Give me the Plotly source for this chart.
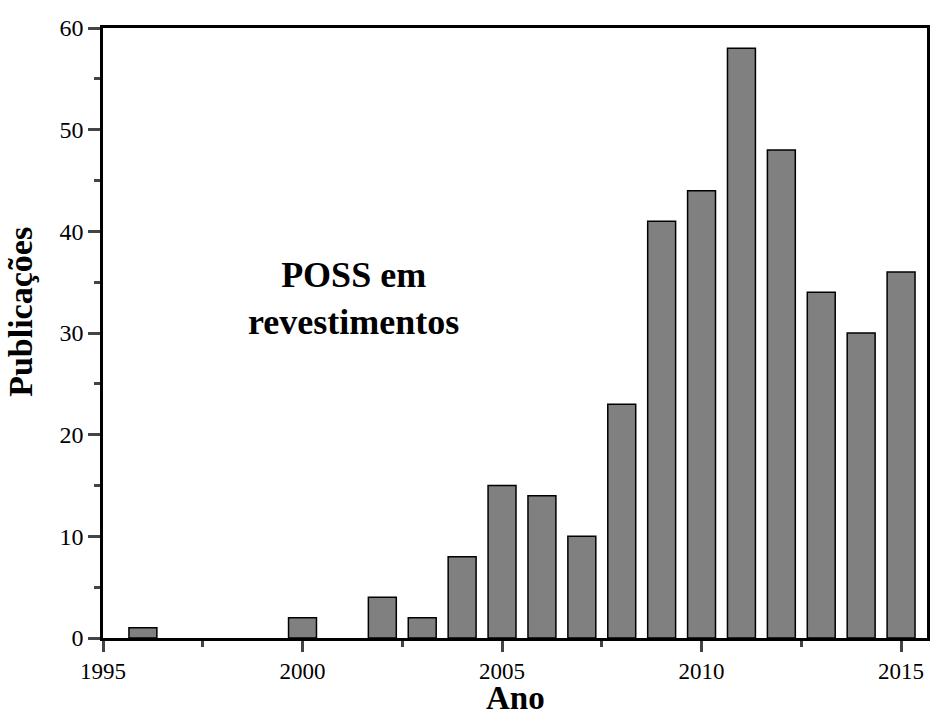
import plotly.graph_objects as go

years = list(range(1996, 2016))
pubs = [1, 0, 0, 0, 2, 0, 4, 2, 8, 15, 14, 10, 23, 41, 44, 58, 48, 34, 30, 36]

font = "Liberation Serif, Times New Roman, serif"

fig = go.Figure(go.Bar(
    x=years, y=pubs, width=0.7,
    marker=dict(color="#808080",
                line=dict(color="black", width=[1.5 if v > 0 else 0 for v in pubs])),
))

fig.update_layout(
    width=933, height=718,
    margin=dict(l=103, r=3, t=28, b=80),
    plot_bgcolor="white", paper_bgcolor="white",
    showlegend=False,
    font=dict(family=font, size=24, color="black"),
    annotations=[
        dict(x=2001.27, y=33.4, xref="x", yref="y",
             text="<b>POSS em<br>revestimentos</b>", showarrow=False,
             font=dict(family=font, size=36, color="black"), align="center"),
        dict(x=-0.1, y=0.534, xref="paper", yref="paper", xanchor="center", yanchor="middle",
             text="<b>Publicações</b>", showarrow=False, textangle=-90,
             font=dict(family=font, size=34, color="black")),
        dict(x=0.5, y=-0.1311, xref="paper", yref="paper", xanchor="center", yanchor="bottom",
             text="<b>Ano</b>", showarrow=False,
             font=dict(family=font, size=33, color="black")),
    ],
)
fig.update_xaxes(
    range=[1995, 2015.65], tick0=1995, dtick=5, ticks="outside", ticklen=11, tickwidth=2.5,
    minor=dict(dtick=2.5, tick0=1995, ticks="outside", ticklen=6, tickwidth=2.5),
    showline=True, linecolor="black", linewidth=2.5, mirror=True, showgrid=False, zeroline=False,
    tickfont=dict(family=font, size=23),
)
fig.update_yaxes(
    range=[0, 60], tick0=0, dtick=10, ticks="outside", ticklen=12, tickwidth=2.5,
    minor=dict(dtick=5, ticks="outside", ticklen=6, tickwidth=2.5),
    showline=True, linecolor="black", linewidth=2.5, mirror=True, showgrid=False, zeroline=False,
    tickfont=dict(family=font, size=24),
)

fig.write_html("out.html", config={"displayModeBar": False},
               post_script="document.body.style.margin='0';")
